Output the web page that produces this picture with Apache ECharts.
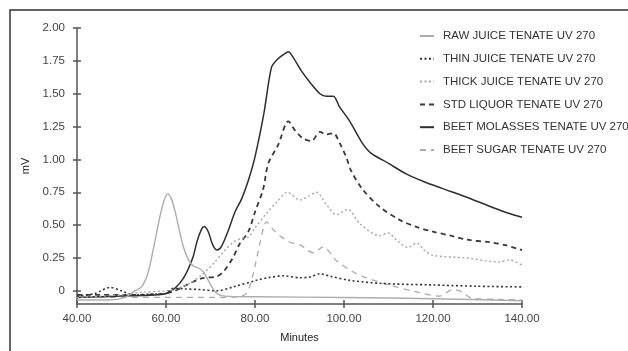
<!DOCTYPE html>
<html>
<head>
<meta charset="utf-8">
<script src="https://cdn.jsdelivr.net/npm/echarts@6/dist/echarts.min.js"></script>
<style>html,body{margin:0;padding:0;background:#fff}#c{width:628px;height:351px}</style>
</head>
<body>
<div id="c"></div>
<script>
var seriesNames = ['RAW JUICE TENATE UV 270','THIN JUICE TENATE UV 270','THICK JUICE TENATE UV 270','STD LIQUOR TENATE UV 270','BEET MOLASSES TENATE UV 270','BEET SUGAR TENATE UV 270'];
var yTicks = [0, 0.25, 0.5, 0.75, 1.0, 1.25, 1.5, 1.75, 2.0];
var xTicks = [40, 60, 80, 100, 120, 140];

var rawJuice = [[40,-0.07],[47,-0.07],[50.8,-0.05],[53,0.0],[54.5,0.03],[55.8,0.12],[56.8,0.26],[58.6,0.56],[59.6,0.69],[60.4,0.74],[61.2,0.70],[62,0.61],[63,0.46],[63.9,0.335],[65,0.24],[66.1,0.19],[67.5,0.17],[68.5,0.14],[69.5,0.08],[70.5,0.02],[71.4,-0.02],[73.2,-0.04],[80,-0.045],[100,-0.05],[120,-0.06],[140,-0.075]];
var thinJuice = [[40,-0.04],[44,-0.02],[47.4,0.026],[50,0.0],[52.7,-0.03],[57,-0.025],[60,-0.02],[61.6,0.02],[64,0.015],[67.6,0.01],[71.4,0.0],[75.1,0.03],[80.3,0.08],[83,0.1],[86.3,0.115],[90,0.1],[92.3,0.105],[94.6,0.13],[97,0.11],[101.3,0.08],[108.7,0.056],[120,0.045],[130,0.035],[140,0.03]];
var thickJuice = [[40,-0.05],[50,-0.03],[55,-0.01],[60,0.0],[62,0.01],[65,0.05],[68,0.12],[71,0.22],[73,0.3],[75.1,0.37],[77,0.4],[78.5,0.41],[80,0.48],[82.6,0.59],[85,0.68],[87.3,0.75],[90.1,0.69],[92,0.72],[93.8,0.75],[96,0.66],[98.3,0.58],[100.8,0.62],[103.6,0.51],[108,0.42],[109.9,0.44],[112,0.38],[114.4,0.33],[116.3,0.365],[118,0.31],[120,0.27],[127.5,0.25],[135,0.22],[137.2,0.235],[140,0.195]];
var stdLiquor = [[40,-0.03],[50,-0.03],[55,-0.03],[60,-0.02],[62,0.0],[64.6,0.045],[68,0.095],[71.4,0.11],[73,0.15],[75,0.25],[76.6,0.36],[78.5,0.45],[80,0.6],[81.8,0.77],[83,0.97],[85.2,1.11],[87.5,1.29],[89,1.22],[90.8,1.16],[92.7,1.14],[94.6,1.21],[96,1.19],[97.6,1.2],[99.1,1.12],[100.6,1.01],[101.5,0.92],[104,0.78],[108,0.64],[112.5,0.54],[116,0.49],[120,0.45],[124,0.42],[127.5,0.39],[132.7,0.37],[136,0.35],[140,0.31]];
var beetMolasses = [[40,-0.05],[45,-0.045],[50,-0.04],[55,-0.035],[58,-0.03],[60,-0.02],[62,0.02],[64,0.1],[66,0.25],[67,0.38],[68,0.47],[68.6,0.49],[69.5,0.45],[70.5,0.35],[71.5,0.31],[72.5,0.34],[74,0.46],[75.5,0.6],[77,0.7],[78.5,0.84],[80,1.02],[82,1.35],[83.7,1.7],[85,1.76],[86.5,1.8],[87.5,1.82],[88.5,1.78],[90.5,1.67],[92.5,1.58],[94.6,1.5],[96,1.48],[97.6,1.48],[99,1.4],[101.3,1.29],[104,1.13],[106,1.05],[110,0.97],[114,0.89],[118,0.83],[122,0.78],[127,0.72],[133,0.64],[137,0.59],[140,0.56]];
var beetSugar = [[40,-0.05],[50,-0.05],[60,-0.05],[70,-0.05],[76,-0.045],[78.1,-0.02],[79.6,0.13],[81.1,0.36],[82.6,0.525],[84,0.47],[85.6,0.42],[87.8,0.37],[90.1,0.35],[93.1,0.29],[95.3,0.335],[98.3,0.23],[102,0.145],[105,0.1],[110.3,0.043],[116.3,-0.008],[121.5,-0.04],[124.5,0.01],[126,0.0],[129,-0.058],[135,-0.065],[140,-0.07]];

var dataList = [rawJuice, thinJuice, thickJuice, stdLiquor, beetMolasses, beetSugar];
var colors = ['#adadad','#333333','#a8a8a8','#3a3a3a','#2e2e2e','#ababab'];
var dashes = ['solid',[2,2.5],[2,2.5],[5,4],'solid',[6,5]];
var widths = [1.4,1.6,1.4,1.8,1.5,1.3];

var font = 'Liberation Sans, Arial, sans-serif';
var chart = echarts.init(document.getElementById('c'));

function fmtY(v){ return v === 0 ? '0' : v.toFixed(2); }

var series = seriesNames.map(function(n,i){
  return {
    name: n, type: 'line', data: dataList[i], showSymbol: false, symbol: 'none',
    smooth: 0.3, animation: false,
    lineStyle: { color: colors[i], width: widths[i], type: dashes[i] },
    itemStyle: { color: colors[i] },
    z: 10 - i
  };
});

var axisCommon = { color: '#555', width: 1.5 };

chart.setOption({
  animation: false,
  backgroundColor: '#fff',
  graphic: [{ type: 'rect', shape: { x: 10, y: 10, width: 640, height: 360 }, style: { fill: 'none', stroke: '#333', lineWidth: 1.5 }, silent: true }],
  grid: { left: 77, right: 106, top: 28, bottom: 47, containLabel: false },
  legend: {
    orient: 'vertical', left: 414, top: 25, itemWidth: 14, itemHeight: 12, itemGap: 10.8,
    itemStyle: { opacity: 0 },
    textStyle: { fontFamily: font, fontSize: 11.5, color: '#333', padding: [0, 0, 0, 4] },
    data: seriesNames
  },
  xAxis: [{
    type: 'value', min: 40, max: 140, interval: 20,
    name: 'Minutes', nameLocation: 'middle', nameGap: 28,
    nameTextStyle: { fontFamily: font, fontSize: 11, color: '#222' },
    axisLine: { show: true, onZero: false, lineStyle: axisCommon },
    axisTick: { show: true, length: 4, lineStyle: axisCommon },
    axisLabel: { fontFamily: font, fontSize: 11.5, color: '#444', margin: 9, formatter: function(v){ return v.toFixed(2); } },
    splitLine: { show: false }
  },{
    type: 'value', min: 40, max: 140, interval: 20, position: 'bottom',
    axisLine: { show: false, onZero: false },
    axisTick: { show: true, inside: true, length: 4, lineStyle: axisCommon },
    axisLabel: { show: false }, splitLine: { show: false }
  }],
  yAxis: [{
    type: 'value', min: -0.1, max: 2.0,
    name: 'mV', nameLocation: 'middle', nameGap: 46,
    nameTextStyle: { fontFamily: font, fontSize: 11, color: '#222' },
    axisLine: { show: true, onZero: false, lineStyle: axisCommon },
    axisTick: { show: true, length: 4, customValues: yTicks, lineStyle: axisCommon },
    axisLabel: { fontFamily: font, fontSize: 11.5, color: '#444', margin: 12, customValues: yTicks, formatter: fmtY },
    splitLine: { show: false }
  },{
    type: 'value', min: -0.1, max: 2.0, position: 'left',
    axisLine: { show: false, onZero: false },
    axisTick: { show: true, inside: true, length: 4, customValues: yTicks, lineStyle: axisCommon },
    axisLabel: { show: false, customValues: yTicks }, splitLine: { show: false }
  }],
  series: series
});
</script>
</body>
</html>
